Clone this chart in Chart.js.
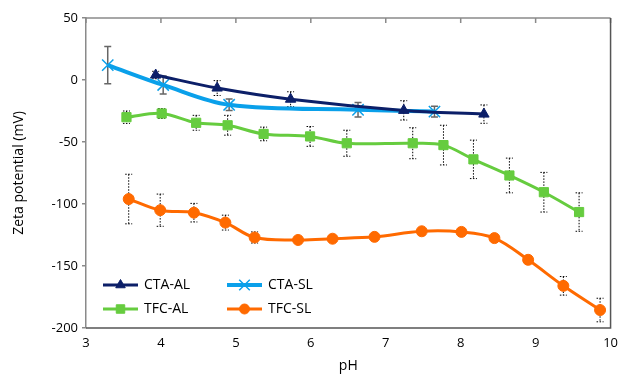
<!DOCTYPE html>
<html>
<head>
<meta charset="utf-8">
<script src="https://cdn.jsdelivr.net/npm/chart.js@4.4.1/dist/chart.umd.min.js"></script>
<style>
  html, body { margin: 0; padding: 0; background: #fff; }
  #wrap { width: 625px; height: 378px; }
</style>
</head>
<body>
<div id="wrap"><canvas id="zeta"></canvas></div>
<script>
// datos (pH, potencial zeta en mV, error)
const ctaAlPH = [3.93, 4.75, 5.73, 7.24, 8.31];
const ctaAlZeta = [4, -6.5, -15.5, -24.5, -27.5];
const ctaAlErr = [3, 6, 6, 7.8, 7.4];

const ctaSlPH = [3.29, 4.03, 4.91, 6.63, 7.65];
const ctaSlZeta = [12, -4, -20, -24, -25.5];
const ctaSlErr = [15, 7.3, 4.6, 5.9, 4.3];

const tfcAlPH = [3.54, 4.01, 4.47, 4.89, 5.37, 5.99, 6.48, 7.36, 7.77, 8.17, 8.65, 9.11, 9.58];
const tfcAlZeta = [-30, -27, -34.5, -36.5, -43.5, -45.5, -51, -51, -52.5, -64, -77, -90.5, -106.5];
const tfcAlErr = [5, 4, 6, 8, 5.5, 8, 10.5, 12.5, 16, 15.5, 14, 16, 15.5];

const tfcSlPH = [3.57, 3.99, 4.44, 4.86, 5.25, 5.83, 6.29, 6.85, 7.48, 8.01, 8.45, 8.90, 9.37, 9.86];
const tfcSlZeta = [-96, -105, -107, -115, -127, -129, -128, -126.5, -122, -122.5, -127.5, -145, -166, -185.5];
const tfcSlErr = [20, 13, 7.5, 6, 4.5, 0, 0, 0, 0, 3, 0, 3, 7.5, 9.5];

const xTicks = [3, 4, 5, 6, 7, 8, 9, 10];
const yTicks = [50, 0, -50, -100, -150, -200];

const FONT = "'Open Sans', 'Noto Sans', sans-serif";

function puntos(xs, ys) {
  return xs.map((x, i) => ({ x: x, y: ys[i] }));
}

const series = [
  { label: "CTA-AL", xs: ctaAlPH, ys: ctaAlZeta, err: ctaAlErr, color: "#0c1f68", width: 3, style: "triangle", radius: 6, errColor: "#000", dotted: true },
  { label: "CTA-SL", xs: ctaSlPH, ys: ctaSlZeta, err: ctaSlErr, color: "#0aa0ea", width: 4, style: "crossRot", radius: 8, errColor: "#666", dotted: false },
  { label: "TFC-AL", xs: tfcAlPH, ys: tfcAlZeta, err: tfcAlErr, color: "#66cc3f", width: 3, style: "rect", radius: 6.5, errColor: "#000", dotted: true },
  { label: "TFC-SL", xs: tfcSlPH, ys: tfcSlZeta, err: tfcSlErr, color: "#ff6a00", width: 3, style: "circle", radius: 5.5, errColor: "#000", dotted: true }
];

// barras de error (debajo de las series)
const errorBars = {
  id: "errorBars",
  beforeDatasetsDraw(chart) {
    const ctx = chart.ctx;
    const xs = chart.scales.x, ys = chart.scales.y;
    series.forEach(s => {
      ctx.save();
      ctx.strokeStyle = s.errColor;
      ctx.lineWidth = s.dotted ? 1 : 1.5;
      ctx.setLineDash(s.dotted ? [1.5, 1.5] : []);
      s.xs.forEach((x, i) => {
        const e = s.err[i];
        if (!e) return;
        const px = xs.getPixelForValue(x);
        const top = ys.getPixelForValue(s.ys[i] + e);
        const bot = ys.getPixelForValue(s.ys[i] - e);
        ctx.beginPath();
        ctx.moveTo(px, top); ctx.lineTo(px, bot);
        ctx.moveTo(px - 3.5, top); ctx.lineTo(px + 3.5, top);
        ctx.moveTo(px - 3.5, bot); ctx.lineTo(px + 3.5, bot);
        ctx.stroke();
      });
      ctx.restore();
    });
  }
};

// marco del area y marcas superiores
const marco = {
  id: "marco",
  afterDraw(chart) {
    const ctx = chart.ctx;
    const a = chart.chartArea;
    ctx.save();
    ctx.lineWidth = 1.5;
    ctx.strokeStyle = "#8a8a8a";
    ctx.beginPath();
    ctx.moveTo(a.left, a.top); ctx.lineTo(a.right, a.top);
    chart.scales.x.ticks.forEach(t => {
      const px = chart.scales.x.getPixelForValue(t.value);
      ctx.moveTo(px, a.top); ctx.lineTo(px, a.top + 5);
    });
    ctx.stroke();
    ctx.strokeStyle = "#555";
    ctx.beginPath();
    ctx.moveTo(a.right, a.top); ctx.lineTo(a.right, a.bottom);
    ctx.lineTo(a.left, a.bottom);
    ctx.stroke();
    ctx.restore();
  }
};

// leyenda dentro del grafico
const leyenda = {
  id: "leyenda",
  afterDraw(chart) {
    const ctx = chart.ctx;
    const a = chart.chartArea;
    const colX = [a.left + 17, a.left + 141];
    const rowY = [a.bottom - 43, a.bottom - 19];
    ctx.save();
    series.forEach((s, i) => {
      const x0 = colX[i % 2], y0 = rowY[Math.floor(i / 2)];
      ctx.strokeStyle = s.color;
      ctx.fillStyle = s.color;
      ctx.lineWidth = s.width;
      ctx.beginPath();
      ctx.moveTo(x0, y0); ctx.lineTo(x0 + 35, y0);
      ctx.stroke();
      ctx.lineWidth = s.style === "crossRot" ? 1.5 : 1;
      Chart.helpers.drawPoint(ctx, {
        pointStyle: s.style, radius: s.radius - 0.5, borderWidth: ctx.lineWidth,
        rotation: 0
      }, x0 + 17.5, y0);
      ctx.fillStyle = "#000";
      ctx.font = "14px " + FONT;
      ctx.textBaseline = "middle";
      ctx.fillText(s.label, x0 + 41, y0);
    });
    ctx.restore();
  }
};

const datasets = series.map(s => ({
  label: s.label,
  data: puntos(s.xs, s.ys),
  showLine: true,
  borderColor: s.color,
  backgroundColor: s.color,
  borderWidth: s.width,
  pointStyle: s.style,
  pointRadius: s.radius,
  pointHoverRadius: s.radius,
  pointBorderWidth: s.style === "crossRot" ? 1.5 : 1,
  pointBorderColor: s.color,
  pointBackgroundColor: s.color,
  tension: 0.35
}));

Chart.defaults.font.family = FONT;
Chart.defaults.color = "#000";

new Chart(document.getElementById("zeta"), {
  type: "scatter",
  data: { datasets },
  plugins: [errorBars, marco, leyenda],
  options: {
    responsive: true,
    maintainAspectRatio: false,
    animation: false,
    layout: { padding: { top: 18, right: 9, left: 0, bottom: 0 } },
    plugins: { legend: { display: false }, tooltip: { enabled: false } },
    scales: {
      x: {
        type: "linear", min: 3, max: 10,
        afterBuildTicks: sc => { sc.ticks = xTicks.map(v => ({ value: v })); },
        grid: { display: false, drawTicks: false },
        border: { display: false },
        ticks: { font: { size: 13 }, padding: 7, maxRotation: 0 },
        title: { display: true, text: "pH", font: { size: 14 }, padding: { top: 4 } },
        afterFit: sc => { sc.height = 50; }
      },
      y: {
        type: "linear", min: -200, max: 50,
        afterBuildTicks: sc => { sc.ticks = yTicks.map(v => ({ value: v })); },
        grid: { drawOnChartArea: false, drawTicks: true, tickLength: 4, color: "#8a8a8a", lineWidth: 1.5 },
        border: { display: true, color: "#8a8a8a", width: 1.5 },
        ticks: { font: { size: 13 }, padding: 4 },
        title: { display: true, text: "Zeta potential (mV)", font: { size: 14 }, padding: { top: 11, bottom: 4 } },
        afterFit: sc => { sc.width = 86; }
      }
    }
  }
});
</script>
</body>
</html>
